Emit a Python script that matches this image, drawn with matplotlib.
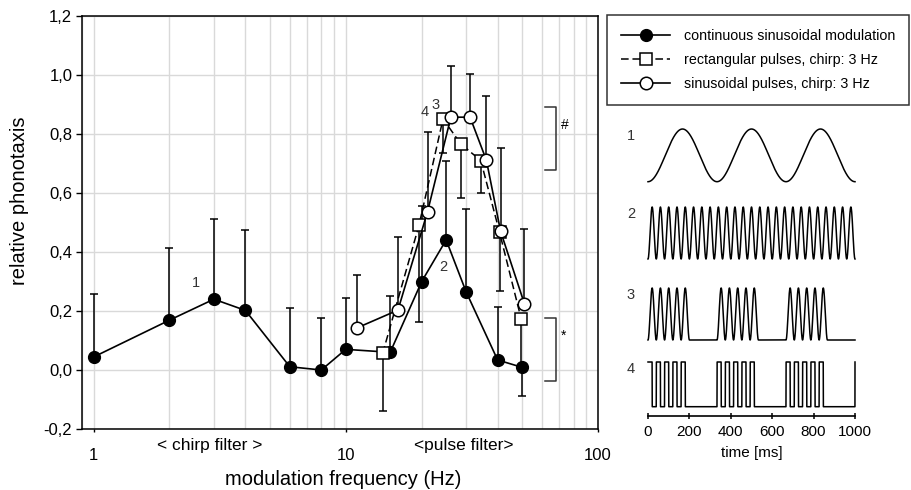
import numpy as np
import matplotlib.pyplot as plt
from matplotlib import ticker
from matplotlib.lines import Line2D

plt.rcParams['font.family'] = ['Liberation Sans', 'DejaVu Sans']

# continuous sinusoidal modulation
freq_cont = [1, 2, 3, 4, 6, 8, 10, 15, 20, 25, 30, 40, 50]
resp_cont = [0.044, 0.169, 0.240, 0.202, 0.011, 0.0, 0.07, 0.06, 0.30, 0.441, 0.265, 0.034, 0.009]
err_up_cont = [0.213, 0.243, 0.271, 0.272, 0.199, 0.176, 0.175, 0.19, 0.255, 0.269, 0.281, 0.181, 0.0]
err_lo_cont = [0, 0, 0, 0, 0, 0, 0, 0, 0, 0, 0, 0, 0.096]

# rectangular pulses, chirp 3 Hz
freq_rect = [14, 19.5, 24.3, 28.6, 34.3, 40.7, 49.6]
resp_rect = [0.056, 0.49, 0.851, 0.766, 0.71, 0.467, 0.173]
err_lo_rect = [0.194, 0.327, 0.117, 0.184, 0.111, 0.199, 0.17]

# sinusoidal pulses, chirp 3 Hz
freq_sin = [11.1, 16.1, 21.1, 26.1, 31.1, 36.1, 41.1, 51.1]
resp_sin = [0.143, 0.203, 0.537, 0.857, 0.857, 0.711, 0.47, 0.224]
err_up_sin = [0.178, 0.249, 0.271, 0.173, 0.146, 0.217, 0.282, 0.255]

labels = ['continuous sinusoidal modulation',
          'rectangular pulses, chirp: 3 Hz',
          'sinusoidal pulses, chirp: 3 Hz']

# stimulus numbers placed next to the curves
stim_tags = ['1', '2', '4', '3']
stim_tag_x = [2.54, 24.4, 20.6, 22.7]
stim_tag_y = [0.296, 0.348, 0.875, 0.90]

# significance brackets: (y_top, y_bottom, symbol)
brackets = [(0.89, 0.678, '#'), (0.175, -0.036, '*')]
bracket_x = (61.4, 68.3)

# stimulus waveforms (ms)
chirp_period = 1000 / 3.0
chirp_dur = 200
pulse_rate = 25
rect_on = 20

W, H = 911, 490


def rect(x0, y0, x1, y1):
    return [x0 / W, 1 - y1 / H, (x1 - x0) / W, (y1 - y0) / H]


fig = plt.figure(figsize=(W / 100, H / 100), dpi=100)
ax = fig.add_axes(rect(82, 16, 598, 429))
ax.set_xscale('log')
ax.set_xlim(0.9, 100)
ax.set_ylim(-0.2, 1.2)
ax.set_yticks(np.arange(-0.2, 1.21, 0.2))
ax.yaxis.set_major_formatter(ticker.FuncFormatter(lambda v, p: f'{v:.1f}'.replace('.', ',')))
ax.xaxis.set_major_formatter(ticker.FuncFormatter(lambda v, p: f'{v:g}'))
ax.xaxis.set_minor_formatter(ticker.NullFormatter())
ax.grid(which='both', axis='x', color='#d9d9d9', lw=1.0)
ax.grid(which='major', axis='y', color='#d9d9d9', lw=1.0)
ax.set_axisbelow(True)
ax.tick_params(axis='both', which='major', labelsize=12, direction='out', width=1)
ax.tick_params(axis='y', length=4, pad=3)
ax.tick_params(axis='x', length=2.5, pad=11)
ax.tick_params(axis='x', which='minor', length=0)
for s in ax.spines.values():
    s.set_linewidth(1.1)

ebkw = dict(fmt='none', ecolor='black', elinewidth=1.1, capsize=2.8, capthick=1.1, zorder=2)
ax.errorbar(freq_cont, resp_cont, yerr=[err_lo_cont, err_up_cont], **ebkw)
ax.errorbar(freq_rect, resp_rect, yerr=[err_lo_rect, [0] * len(freq_rect)], **ebkw)
ax.errorbar(freq_sin, resp_sin, yerr=[[0] * len(freq_sin), err_up_sin], **ebkw)

ax.plot(freq_cont, resp_cont, '-o', color='black', lw=1.2, ms=8.5, mfc='black', zorder=3)
ax.plot(freq_rect, resp_rect, '--s', color='black', lw=1.1, dashes=(5, 2.5), ms=8,
        mfc='white', mew=1.1, zorder=4)
ax.plot(freq_sin, resp_sin, '-o', color='black', lw=1.2, ms=9, mfc='white', mew=1.1, zorder=5)

for t, x, y in zip(stim_tags, stim_tag_x, stim_tag_y):
    ax.text(x, y, t, ha='center', va='center', fontsize=10.5, color='#333333')

for y0, y1, sym in brackets:
    ax.plot([bracket_x[0], bracket_x[1], bracket_x[1], bracket_x[0]], [y0, y0, y1, y1],
            color='#333333', lw=1.1, clip_on=False)
    ax.text(bracket_x[1] * 1.04, y0 - 0.06, sym, ha='left', va='center', fontsize=10)

trans = ax.get_xaxis_transform()
ax.text(2.89, -0.041, '< chirp filter >', transform=trans, ha='center', va='center', fontsize=12.5)
ax.text(29.3, -0.041, '<pulse filter>', transform=trans, ha='center', va='center', fontsize=12.5)

fig.text(343.5 / W, 1 - 479 / H, 'modulation frequency (Hz)', ha='center', va='center', fontsize=14.5)
fig.text(20 / W, 1 - 201 / H, 'relative phonotaxis', ha='center', va='center', rotation=90, fontsize=14.5)

handles = [
    Line2D([], [], color='black', lw=1.2, marker='o', ms=8.5, mfc='black'),
    Line2D([], [], color='black', lw=1.1, ls='--', dashes=(5, 2.5), marker='s', ms=8, mfc='white', mew=1.1),
    Line2D([], [], color='black', lw=1.2, marker='o', ms=9, mfc='white', mew=1.1),
]
leg = fig.legend(handles, labels, loc='upper left', bbox_to_anchor=(607 / W, 1 - 15 / H),
                 fontsize=10.3, frameon=True, fancybox=False, edgecolor='black',
                 handlelength=3.4, handletextpad=0.95, labelspacing=0.68, borderpad=1.0,
                 borderaxespad=0)
leg.get_frame().set_linewidth(1.1)

# stimulus waveforms
t = np.linspace(0, 1000, 4001)
phase = np.mod(t, chirp_period)
in_chirp = phase < chirp_dur
w1 = (1 - np.cos(2 * np.pi * 3 * t / 1000)) / 2
w2 = (1 - np.cos(2 * np.pi * pulse_rate * t / 1000)) / 2
w3 = np.where(in_chirp, (1 - np.cos(2 * np.pi * pulse_rate * phase / 1000)) / 2, 0)
w4 = np.where(in_chirp & (np.mod(phase, 2 * rect_on) < rect_on), 1.0, 0.0)

panels = [(129, 181.7, w1), (207, 259, w2), (288, 340, w3), (362, 406.7, w4)]
for i, (top, bot, w) in enumerate(panels):
    pax = fig.add_axes(rect(648, top, 855, bot))
    pax.plot(t, w, color='black', lw=1.1, clip_on=False)
    pax.set_xlim(0, 1000)
    pax.set_ylim(0, 1)
    pax.set_yticks([])
    for side in ['top', 'right', 'left']:
        pax.spines[side].set_visible(False)
    pax.patch.set_alpha(0)
    fig.text(631 / W, 1 - (top + 7) / H, str(i + 1), ha='center', va='center', fontsize=10.5, color='#333333')
    if i < 3:
        pax.spines['bottom'].set_visible(False)
        pax.set_xticks([])
    else:
        pax.spines['bottom'].set_position(('outward', 6.5))
        pax.spines['bottom'].set_linewidth(1.2)
        pax.set_xticks(np.arange(0, 1001, 200))
        pax.tick_params(axis='x', direction='inout', length=5, width=1.1, labelsize=11, pad=4)
        pax.set_xlabel('time [ms]', fontsize=11, labelpad=5)

plt.savefig('out.png', dpi=100)
